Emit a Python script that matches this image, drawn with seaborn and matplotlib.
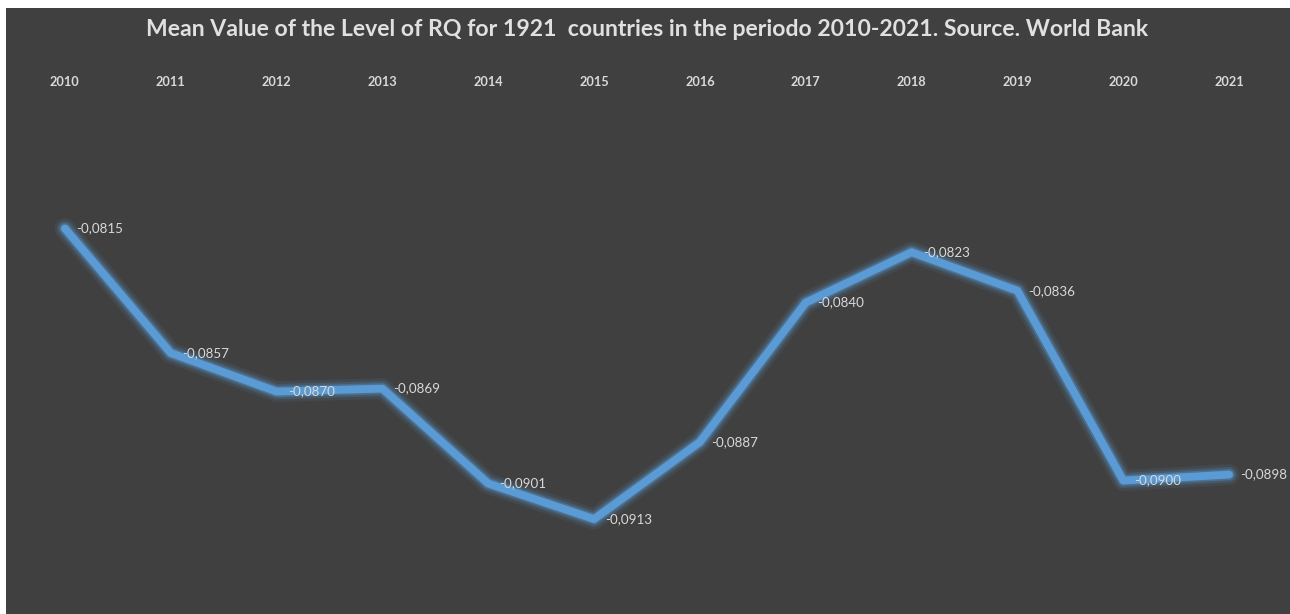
import matplotlib
matplotlib.use("Agg")
import matplotlib.pyplot as plt
import matplotlib.patheffects as pe
from matplotlib.patches import Rectangle
import seaborn as sns
import pandas as pd

years = ["2010", "2011", "2012", "2013", "2014", "2015",
         "2016", "2017", "2018", "2019", "2020", "2021"]
rq_mean = [-0.0815, -0.0857, -0.0870, -0.0869, -0.0901, -0.0913,
           -0.0887, -0.0840, -0.0823, -0.0836, -0.0900, -0.0898]

title = "Mean Value of the Level of RQ for 1921  countries in the periodo 2010-2021. Source. World Bank"

BG = "#404040"
LINE = "#5b9bd5"
TXT = "#d9d9d9"

sns.set_theme(style="dark")
plt.rcParams["font.family"] = ["Lato", "DejaVu Sans"]

df = pd.DataFrame({"idx": range(len(years)), "year": years, "value": rq_mean})

W, H = 1290, 614
fig = plt.figure(figsize=(W / 100, H / 100), dpi=100, facecolor="white")
fig.patches.append(Rectangle((6 / W, 0), 1 - 6 / W, 1 - 8 / H,
                             transform=fig.transFigure, facecolor=BG,
                             edgecolor="none", zorder=-10))

ax = fig.add_axes([12 / W, 0, (1282 - 12) / W, (614 - 95) / H])
ax.patch.set_alpha(0)

sns.lineplot(data=df, x="idx", y="value", ax=ax, color=LINE, linewidth=5.6,
             zorder=3)
line = ax.lines[0]
line.set_solid_capstyle("round")
line.set_solid_joinstyle("round")
line.set_path_effects([
    pe.Stroke(linewidth=15, foreground=LINE, alpha=0.10),
    pe.Stroke(linewidth=11, foreground=LINE, alpha=0.20),
    pe.Stroke(linewidth=8, foreground=LINE, alpha=0.35),
    pe.Normal(),
])

for i, v in enumerate(rq_mean):
    ax.annotate(f"{v:.4f}".replace(".", ","), (i, v), xytext=(8, 0),
                textcoords="offset points", ha="left", va="center",
                fontsize=9.6, color=TXT, zorder=4)

ax.set_xlim(-0.5, len(years) - 0.5)
ax.set_ylim(-0.0945, -0.077)
ax.set_xticks(range(len(years)))
ax.set_xticklabels(years, fontsize=9.2, fontweight="bold", color=TXT)
ax.xaxis.tick_top()
ax.tick_params(axis="x", length=0, pad=5)
ax.set_yticks([])
ax.set_xlabel("")
ax.set_ylabel("")
ax.grid(False)
for s in ax.spines.values():
    s.set_visible(False)

fig.text(647 / W, 1 - 30 / H, title, ha="center", va="center",
         fontsize=16.6, fontweight="bold", color="#e0e0e0")

fig.savefig("out.png", dpi=100, facecolor=fig.get_facecolor())
